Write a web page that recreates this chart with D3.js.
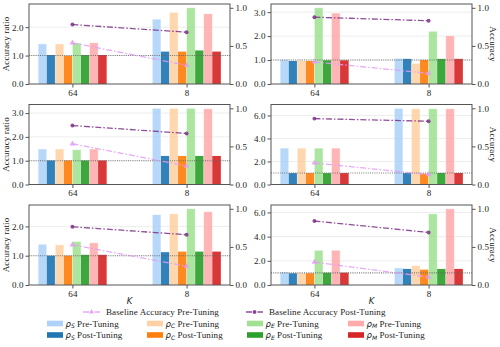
<!DOCTYPE html>
<html>
<head>
<meta charset="utf-8">
<script src="https://cdn.jsdelivr.net/npm/d3@7"></script>
<style>
  body { margin: 0; background: #fff; }
  svg { display: block; font-family: 'Liberation Serif', serif; letter-spacing: 0.1px; }
</style>
</head>
<body>
<div id="chart"></div>
<script>
// group labels on the x axis
const K = ['64', '8'];

// bar series, in drawing order
const seriesKeys = ['S', 'S', 'C', 'C', 'E', 'E', 'M', 'M'];
const seriesStage = ['Pre', 'Post', 'Pre', 'Post', 'Pre', 'Post', 'Pre', 'Post'];
const seriesColor = ['#a0cbf8', '#1f77b4', '#ffc994', '#ff7f0e', '#8fdc80', '#2ca02c', '#ff9c9c', '#d62728'];

// accuracy ratios, one row per series, one column per K
const ratio1 = [[1.41, 2.28], [1.02, 1.14], [1.41, 2.52], [0.99, 1.14], [1.44, 2.68], [1.02, 1.18], [1.45, 2.47], [1.02, 1.14]];
const ratio2 = [[1.02, 1.07], [0.96, 1.05], [0.98, 0.86], [0.96, 1.00], [3.18, 2.20], [0.99, 1.05], [2.96, 2.01], [0.99, 1.05]];
const ratio3 = [[1.49, 3.20], [1.01, 1.20], [1.49, 3.20], [1.01, 1.20], [1.46, 3.20], [1.01, 1.20], [1.49, 3.18], [1.01, 1.20]];
const ratio4 = [[3.16, 6.62], [0.99, 0.99], [3.16, 6.58], [0.99, 0.94], [3.16, 6.58], [0.99, 1.00], [3.16, 6.58], [0.99, 1.00]];
const ratio5 = [[1.39, 2.40], [1.00, 1.12], [1.37, 2.43], [1.00, 1.14], [1.48, 2.60], [1.03, 1.14], [1.44, 2.50], [1.03, 1.14]];
const ratio6 = [[1.08, 1.41], [0.97, 1.33], [0.99, 1.60], [0.97, 1.27], [2.87, 5.88], [1.02, 1.33], [2.87, 6.30], [1.02, 1.33]];

// baseline accuracy (right axis)
const accPre1 = [0.54, 0.245], accPost1 = [0.78, 0.68];
const accPre2 = [0.29, 0.14], accPost2 = [0.877, 0.83];
const accPre3 = [0.535, 0.243], accPost3 = [0.774, 0.67];
const accPre4 = [0.283, 0.13], accPost4 = [0.865, 0.83];
const accPre5 = [0.527, 0.245], accPost5 = [0.764, 0.66];
const accPre6 = [0.30, 0.105], accPost6 = [0.84, 0.69];

// left axis ticks per panel
const ticks1 = [0, 1, 2], ticks2 = [0, 1, 2, 3], ticks3 = [0, 1, 2, 3];
const ticks4 = [0, 2, 4, 6], ticks5 = [0, 1, 2], ticks6 = [0, 2, 4, 6];
const accTicks = [0, 0.5, 1.0];

const panels = [
    { ratio: ratio1, pre: accPre1, post: accPost1, ticks: ticks1 },
    { ratio: ratio2, pre: accPre2, post: accPost2, ticks: ticks2 },
    { ratio: ratio3, pre: accPre3, post: accPost3, ticks: ticks3 },
    { ratio: ratio4, pre: accPre4, post: accPost4, ticks: ticks4 },
    { ratio: ratio5, pre: accPre5, post: accPost5, ticks: ticks5 },
    { ratio: ratio6, pre: accPre6, post: accPost6, ticks: ticks6 }
];

const W = 500, H = 347;
const colX = [29, 271], pw = 201;
const rowY = [4, 104.5, 205], ph = 80;
const barW = 0.075;
const fs = 9;
const serif = "'Liberation Serif', serif";
const preColor = '#e29cf5', postColor = '#7b2f86';
const spine = '#555';

const svg = d3.select('#chart').append('svg')
    .attr('width', W).attr('height', H);

panels.forEach((p, i) => {
    let col = i % 2, row = Math.floor(i / 2);
    let g = svg.append('g')
        .attr('transform', `translate(${colX[col]},${rowY[row]})`);

    let x = d3.scaleLinear().domain([-0.38, 1.38]).range([0, pw]);
    let maxR = d3.max(p.ratio, r => d3.max(r));
    let y = d3.scaleLinear().domain([0, maxR * 1.05]).range([ph, 0]);
    let y2 = d3.scaleLinear().domain([0, 1.05]).range([ph, 0]);

    // light grid at left ticks
    g.selectAll('line.grid').data(p.ticks.slice(1)).enter().append('line')
        .attr('x1', 0).attr('x2', pw)
        .attr('y1', d => y(d)).attr('y2', d => y(d))
        .attr('stroke', '#e8e8e8').attr('stroke-width', 0.8);

    // bars
    p.ratio.forEach((vals, s) => {
        g.selectAll(null).data(vals).enter().append('rect')
            .attr('x', (d, k) => x(k + (s - 3.5) * barW - barW / 2))
            .attr('width', x(barW) - x(0))
            .attr('y', d => y(d))
            .attr('height', d => ph - y(d))
            .attr('fill', seriesColor[s])
            .attr('fill-opacity', seriesStage[s] == 'Pre' ? 0.75 : 0.92)
            .attr('stroke', seriesStage[s] == 'Pre' ? '#fff' : 'none')
            .attr('stroke-opacity', 0.5)
            .attr('stroke-width', 0.8);
    });

    // reference line at ratio 1
    g.append('line')
        .attr('x1', 0).attr('x2', pw)
        .attr('y1', y(1)).attr('y2', y(1))
        .attr('stroke', '#666').attr('stroke-width', 1.1)
        .attr('stroke-dasharray', '1,1.2').attr('opacity', 0.85);

    // baseline accuracy lines
    let line = d3.line().x((d, k) => x(k)).y(d => y2(d));
    [[p.pre, preColor, 'tri'], [p.post, postColor, 'dot']].forEach(([vals, c, m]) => {
        g.append('path').attr('d', line(vals))
            .attr('fill', 'none').attr('stroke', c)
            .attr('stroke-width', 1.3).attr('opacity', 0.85)
            .attr('stroke-dasharray', '6,2,1.5,2');
        g.selectAll(null).data(vals).enter().append('path')
            .attr('transform', (d, k) => `translate(${x(k)},${y2(d)})`)
            .attr('d', d3.symbol().type(m == 'tri' ? d3.symbolTriangle : d3.symbolCircle).size(m == 'tri' ? 14 : 12)())
            .attr('fill', c).attr('opacity', 0.85);
    });

    // frame
    g.append('rect').attr('width', pw).attr('height', ph)
        .attr('fill', 'none').attr('stroke', spine).attr('stroke-width', 1);

    // axes
    let xa = g.append('g').attr('transform', `translate(0,${ph})`)
        .call(d3.axisBottom(x).tickValues([0, 1]).tickFormat(k => K[k]).tickSize(3.5).tickPadding(2));
    let ya = g.append('g')
        .call(d3.axisLeft(y).tickValues(p.ticks).tickFormat(d3.format('.1f')).tickSize(3.5).tickPadding(2));
    let ya2 = g.append('g').attr('transform', `translate(${pw},0)`)
        .call(d3.axisRight(y2).tickValues(accTicks).tickFormat(d3.format('.1f')).tickSize(3.5).tickPadding(2));
    [xa, ya, ya2].forEach(a => {
        a.select('.domain').remove();
        a.selectAll('line').attr('stroke', spine);
        a.selectAll('text').attr('font-family', serif).attr('font-size', fs).attr('fill', '#222');
    });

    if (col == 0) {
        svg.append('text')
            .attr('transform', `translate(9,${rowY[row] + ph / 2}) rotate(-90)`)
            .attr('text-anchor', 'middle').attr('font-size', fs).attr('fill', '#222')
            .text('Accuracy ratio');
    } else {
        svg.append('text')
            .attr('transform', `translate(490,${rowY[row] + ph / 2}) rotate(90)`)
            .attr('text-anchor', 'middle').attr('font-size', fs).attr('fill', '#222')
            .text('Accuracy');
    }
    if (row == 2) {
        svg.append('text')
            .attr('x', colX[col] + pw / 2).attr('y', 304)
            .attr('text-anchor', 'middle').attr('font-size', 8.5)
            .attr('font-family', 'DejaVu Sans').attr('font-style', 'italic').attr('fill', '#222')
            .text('K');
    }
});

// legend: baseline lines
const lineLegend = [
    { label: 'Baseline Accuracy Pre-Tuning', color: preColor, marker: d3.symbolTriangle, x: 83 },
    { label: 'Baseline Accuracy Post-Tuning', color: postColor, marker: d3.symbolCircle, x: 246 }
];
lineLegend.forEach(l => {
    let g = svg.append('g').attr('transform', `translate(${l.x},312)`);
    g.append('line').attr('x1', 0).attr('x2', 17)
        .attr('stroke', l.color).attr('stroke-width', 1.3).attr('opacity', 0.85)
        .attr('stroke-dasharray', '6,2,1.5,2');
    g.append('path').attr('transform', 'translate(8.5,0)')
        .attr('d', d3.symbol().type(l.marker).size(12)())
        .attr('fill', l.color).attr('opacity', 0.85);
    g.append('text').attr('x', 23).attr('y', 3.2).attr('font-size', fs).attr('fill', '#222')
        .text(l.label);
});

// legend: bars, 4 columns x 2 rows
const legendCols = [47, 147, 247, 348];
seriesKeys.forEach((key, s) => {
    let c = Math.floor(s / 2), r = s % 2;
    let g = svg.append('g').attr('transform', `translate(${legendCols[c]},${323.5 + r * 11.5})`);
    g.append('rect').attr('x', 0).attr('y', -2.8).attr('width', 16).attr('height', 5.6)
        .attr('fill', seriesColor[s]).attr('fill-opacity', seriesStage[s] == 'Pre' ? 0.85 : 1);
    let t = g.append('text').attr('x', 18.5).attr('y', 3.2).attr('font-size', fs).attr('fill', '#222');
    t.append('tspan').attr('font-family', 'DejaVu Sans').attr('font-style', 'italic')
        .attr('font-size', 8.5).attr('letter-spacing', 0).text('ρ');
    t.append('tspan').attr('font-family', 'DejaVu Sans').attr('font-style', 'italic')
        .attr('font-size', 6).attr('letter-spacing', 0).attr('dy', 1.5).text(key);
    t.append('tspan').attr('dy', -1.5).text(' ' + seriesStage[s] + '-Tuning');
});
</script>
</body>
</html>
